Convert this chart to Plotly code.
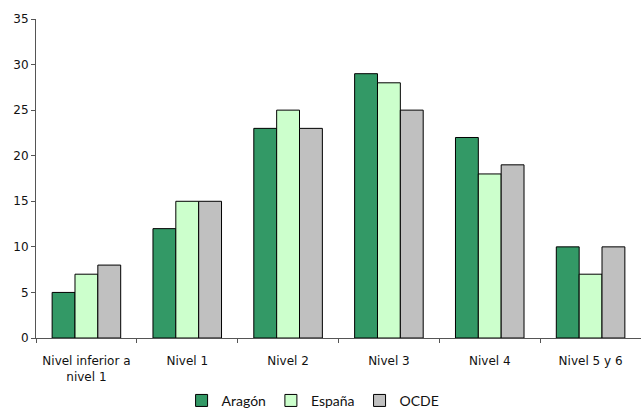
import plotly.graph_objects as go

categories = ["Nivel inferior a<br>nivel 1", "Nivel 1", "Nivel 2", "Nivel 3", "Nivel 4", "Nivel 5 y 6"]
aragon = [5, 12, 23, 29, 22, 10]
espana = [7, 15, 25, 28, 18, 7]
ocde = [8, 15, 23, 25, 19, 10]
y_ticks = [0, 5, 10, 15, 20, 25, 30, 35]

series = [("Aragón", aragon, "#339966"), ("España", espana, "#CCFFCC"), ("OCDE", ocde, "#C0C0C0")]

fig = go.Figure()
for name, vals, col in series:
    fig.add_trace(go.Bar(x=categories, y=vals, name=name,
                         marker=dict(color=col, line=dict(color="#000000", width=1))))

fig.update_layout(
    width=641, height=409,
    margin=dict(l=36, r=0, t=19, b=71, autoexpand=False),
    paper_bgcolor="white", plot_bgcolor="white",
    barmode="group", bargap=0.32, bargroupgap=0,
    font=dict(family="DejaVu Sans", size=12, color="#111111"),
    showlegend=True,
    legend=dict(orientation="h", x=0.458, xanchor="center", y=-0.197, yanchor="middle",
                font=dict(family="Lato", size=14), itemwidth=30, traceorder="normal"),
    xaxis=dict(showline=True, linecolor="#555555", linewidth=1, ticks="outside",
               tickson="boundaries", ticklen=4, tickcolor="#555555", showgrid=False,
               automargin=False, ticklabelstandoff=12),
    yaxis=dict(range=[0, 35], tickvals=y_ticks, showline=True, linecolor="#555555",
               linewidth=1, ticks="outside", ticklen=4, tickcolor="#555555",
               showgrid=False, zeroline=False, automargin=False),
)
fig.write_html("out.html", config={"displayModeBar": False},
               post_script="document.body.style.margin='0';")
